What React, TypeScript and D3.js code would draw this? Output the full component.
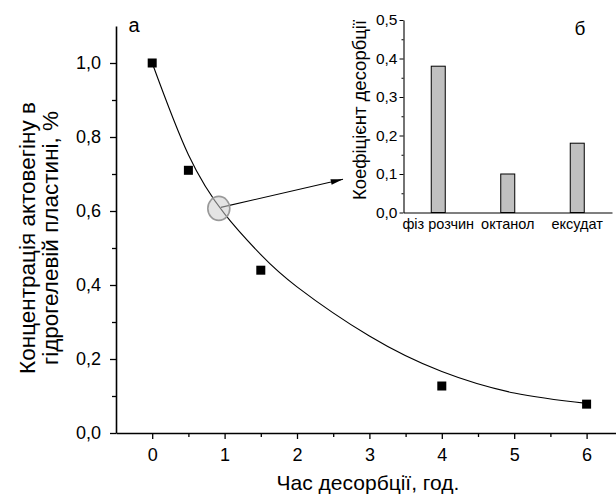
import React, { useEffect, useRef } from 'react';
import * as d3 from 'd3';

// main panel (а): desorption kinetics
const times = [0, 0.5, 1.5, 4, 6];
const concentrations = [1.0, 0.71, 0.44, 0.127, 0.078];
// fitted curve
const fitTimes = [0, 0.5, 1, 1.5, 2, 3, 4, 5, 6];
const fitValues = [1.0, 0.752, 0.592, 0.482, 0.395, 0.262, 0.166, 0.108, 0.08];
const xTicks = [0, 1, 2, 3, 4, 5, 6];
const xMinorTicks = [0.5, 1.5, 2.5, 3.5, 4.5, 5.5];
const yTicks = [0, 0.2, 0.4, 0.6, 0.8, 1.0];
const yMinorTicks = [0.1, 0.3, 0.5, 0.7, 0.9];

// highlighted point and arrow end (data units of panel а)
const highlight = { t: 0.92, c: 0.607 };
const arrowEnd = { t: 2.635, c: 0.686 };

// inset (б): desorption coefficient by medium
const media = ['фіз розчин', 'октанол', 'ексудат'];
const coefficients = [0.38, 0.1, 0.18];
const insetTicks = [0, 0.1, 0.2, 0.3, 0.4, 0.5];
const insetMinorTicks = [0.05, 0.15, 0.25, 0.35, 0.45];

const FONT = '"Liberation Sans", Arial, sans-serif';
const comma = (d: number) => d.toFixed(1).replace('.', ',');

export default function App() {
  const svgRef = useRef<SVGSVGElement>(null);

  useEffect(() => {
    const svg = d3.select(svgRef.current);
    svg.selectAll('*').remove();
    svg.style('font-family', FONT);

    const x = d3.scaleLinear().domain([-0.5, 6.5]).range([116, 622.8]);
    const y = d3.scaleLinear().domain([0, 1.1]).range([433, 26]);

    svg.append('defs').append('marker')
      .attr('id', 'arrow')
      .attr('viewBox', '0 0 14 8')
      .attr('refX', 14).attr('refY', 4)
      .attr('markerWidth', 13).attr('markerHeight', 7)
      .attr('markerUnits', 'userSpaceOnUse')
      .attr('orient', 'auto')
      .append('path').attr('d', 'M0,0.8 L14,4 L0,7.2 Z').attr('fill', '#000');

    // axes of panel а
    const styleAxis = (g: any, size: number) => {
      g.select('.domain').attr('stroke-width', 1.6);
      g.selectAll('.tick line').attr('stroke-width', 1.3);
      g.selectAll('.tick text').attr('font-size', size).attr('font-family', FONT).attr('fill', '#000');
    };

    const yAxis = svg.append('g').attr('transform', 'translate(116,0)')
      .call(d3.axisLeft(y).tickValues(yTicks).tickFormat((d: any) => comma(d)).tickSize(6).tickSizeOuter(0).tickPadding(9));
    styleAxis(yAxis, 18);
    svg.append('g').attr('transform', 'translate(116,0)')
      .call(d3.axisLeft(y).tickValues(yMinorTicks).tickFormat(() => '').tickSize(4).tickSizeOuter(0))
      .call((g: any) => { g.select('.domain').remove(); g.selectAll('line').attr('stroke-width', 1.3); });

    const xAxis = svg.append('g').attr('transform', 'translate(0,433)')
      .call(d3.axisBottom(x).tickValues(xTicks).tickFormat((d: any) => String(d)).tickSize(6).tickSizeOuter(0).tickPadding(9));
    styleAxis(xAxis, 18);
    svg.append('g').attr('transform', 'translate(0,433)')
      .call(d3.axisBottom(x).tickValues(xMinorTicks).tickFormat(() => '').tickSize(4).tickSizeOuter(0))
      .call((g: any) => { g.select('.domain').remove(); g.selectAll('line').attr('stroke-width', 1.3); });

    // titles
    svg.append('text').attr('x', 368).attr('y', 490).attr('text-anchor', 'middle')
      .attr('font-size', 21).text('Час десорбції, год.');
    const yTitle = svg.append('text').attr('transform', 'translate(0,238) rotate(-90)')
      .attr('text-anchor', 'middle').attr('font-size', 22.5);
    yTitle.append('tspan').attr('x', 0).attr('y', 35).text('Концентрація актовегіну в');
    yTitle.append('tspan').attr('x', 0).attr('y', 58).text('гідрогелевій пластині, %');
    svg.append('text').attr('x', 134).attr('y', 32).attr('text-anchor', 'middle')
      .attr('font-size', 20).text('а');

    // fitted curve
    const line = d3.line<number>()
      .x((_, i) => x(fitTimes[i]))
      .y((d) => y(d))
      .curve(d3.curveNatural);
    svg.append('path').datum(fitValues).attr('d', line)
      .attr('fill', 'none').attr('stroke', '#000').attr('stroke-width', 1.1);

    // points
    svg.append('g').selectAll('rect').data(concentrations).enter().append('rect')
      .attr('x', (_, i) => x(times[i]) - 4.5)
      .attr('y', (d) => y(d) - 4.5)
      .attr('width', 9).attr('height', 9).attr('fill', '#000');

    // highlight circle and arrow
    svg.append('line')
      .attr('x1', x(highlight.t) + 2).attr('y1', y(highlight.c) - 1)
      .attr('x2', x(arrowEnd.t)).attr('y2', y(arrowEnd.c))
      .attr('stroke', '#000').attr('stroke-width', 1.1)
      .attr('marker-end', 'url(#arrow)');
    svg.append('ellipse')
      .attr('cx', x(highlight.t)).attr('cy', y(highlight.c))
      .attr('rx', 11).attr('ry', 12)
      .attr('fill', 'rgba(205,205,205,0.55)').attr('stroke', '#999').attr('stroke-width', 1.6);

    // inset б
    const xi = d3.scaleBand<string>().domain(media).range([403.5, 612]).padding(0);
    const yi = d3.scaleLinear().domain([0, 0.5]).range([212.5, 20]);

    svg.append('g').selectAll('rect').data(coefficients).enter().append('rect')
      .attr('x', (_, i) => (xi(media[i]) as number) + xi.bandwidth() / 2 - 7)
      .attr('y', (d) => yi(d))
      .attr('width', 14)
      .attr('height', (d) => yi(0) - yi(d))
      .attr('fill', '#c0c0c0').attr('stroke', '#000').attr('stroke-width', 1);

    const yiAxis = svg.append('g').attr('transform', 'translate(403.5,0)')
      .call(d3.axisLeft(yi).tickValues(insetTicks).tickFormat((d: any) => comma(d)).tickSize(4).tickSizeOuter(0).tickPadding(2));
    yiAxis.select('.domain').attr('stroke-width', 1.1);
    yiAxis.selectAll('.tick text').attr('font-size', 15.5).attr('font-family', FONT).attr('fill', '#000');
    svg.append('g').attr('transform', 'translate(403.5,0)')
      .call(d3.axisLeft(yi).tickValues(insetMinorTicks).tickFormat(() => '').tickSize(2).tickSizeOuter(0))
      .call((g: any) => g.select('.domain').remove());

    const xiAxis = svg.append('g').attr('transform', 'translate(0,212.5)')
      .call(d3.axisBottom(xi).tickSize(0).tickSizeOuter(0).tickPadding(6));
    xiAxis.select('.domain').attr('stroke-width', 1.1);
    xiAxis.selectAll('.tick text').attr('font-size', 14.5).attr('font-family', FONT).attr('fill', '#000');

    svg.append('text').attr('transform', 'translate(366,110) rotate(-90)')
      .attr('text-anchor', 'middle').attr('font-size', 18.5).text('Коефіцієнт десорбції');
    svg.append('text').attr('x', 580).attr('y', 35).attr('text-anchor', 'middle')
      .attr('font-size', 19).text('б');
  }, []);

  return (
    <svg ref={svgRef} width={616} height={497}
      style={{ position: 'absolute', left: 0, top: 0, background: '#fff' }} />
  );
}
